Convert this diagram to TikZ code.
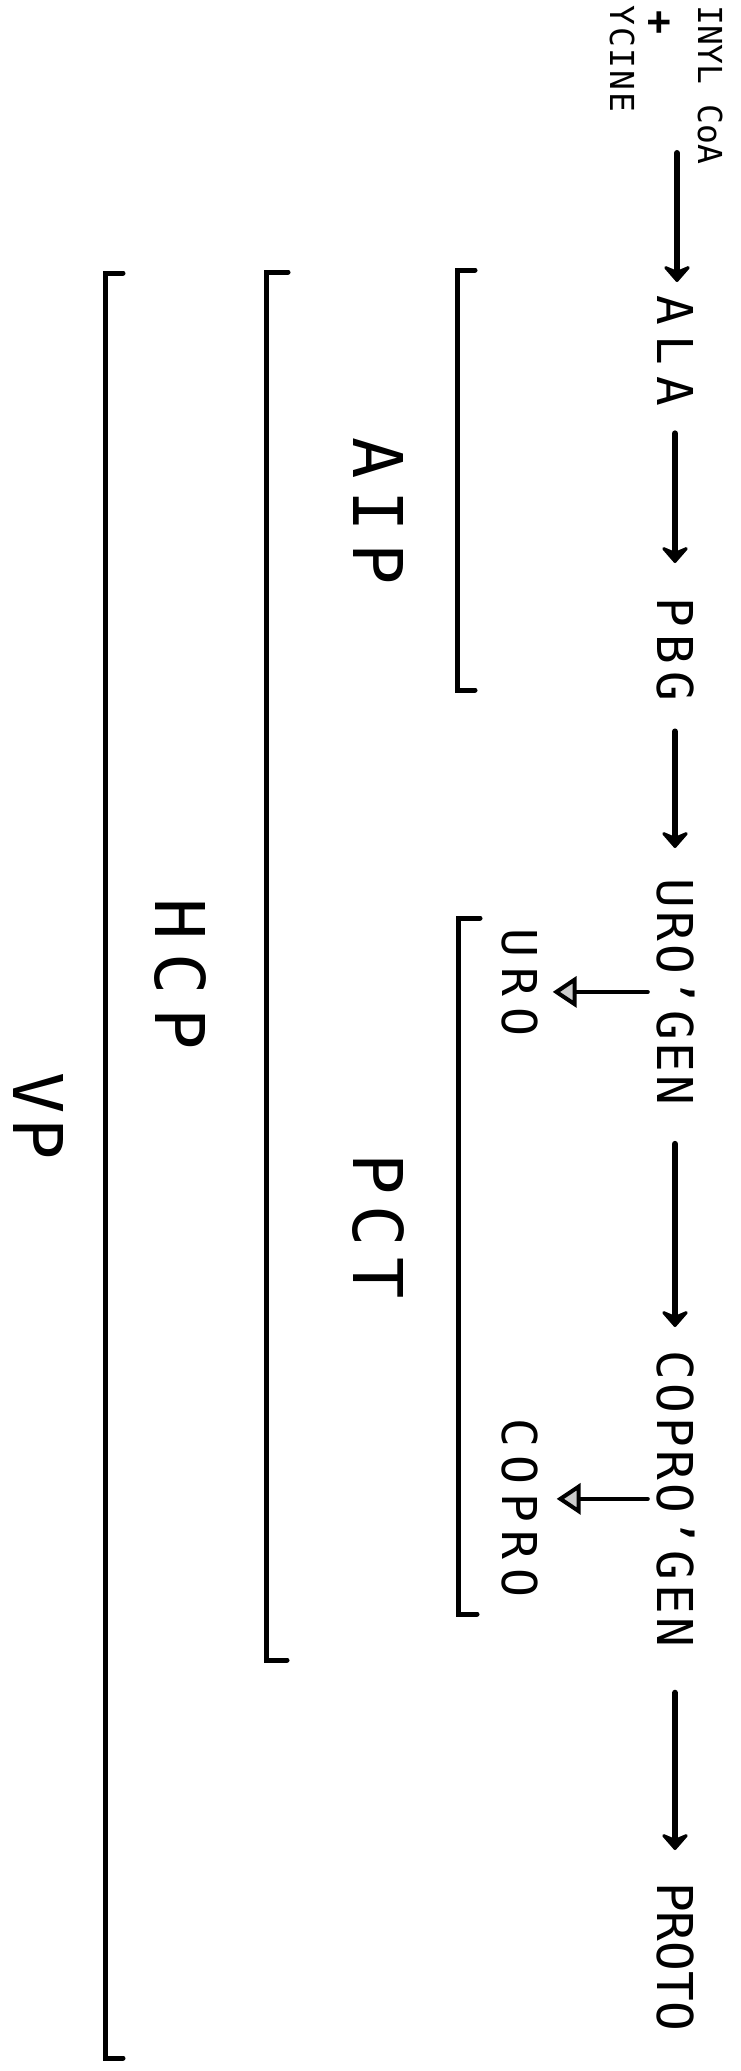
\documentclass[tikz,border=0pt]{standalone}
\usepackage{fontspec}
\setmainfont{DejaVu Sans Mono}
\usetikzlibrary{arrows.meta}
\newcommand\mainsz{\fontsize{49.4}{50}\selectfont}
\newcommand\bigsz{\fontsize{68.6}{70}\selectfont}
\newcommand\subsz{\fontsize{48}{50}\selectfont}
\newcommand\smallsz{\fontsize{33}{35}\selectfont}
\newcommand\ls[1]{\addfontfeature{LetterSpace=#1}}
\tikzset{
  lbl/.style={inner sep=0pt, text depth=0pt, rotate=-90, anchor=west},
  mainlbl/.style={lbl, font=\mainsz, text height=36pt},
  biglbl/.style={lbl, font=\bigsz, text height=50pt},
  sublbl/.style={lbl, font=\subsz, text height=35pt},
  smalllbl/.style={lbl, font=\smallsz, text height=24pt},
  mainarr/.style={line width=6pt, line cap=round, -{Stealth[length=19pt, width=33pt, inset=7pt, round]}},
  sidearr/.style={line width=4pt, line cap=round, -{Triangle[length=24pt, width=31pt, fill=gray!40]}},
  bracket/.style={line width=5pt, line cap=round, line join=miter}
}
\begin{document}
\begin{tikzpicture}[x=1pt, y=-1pt]
\fill[white] (0,0) rectangle (741,2071);
\useasboundingbox (0,0) rectangle (741,2071);
% top substrates (cut off in the reference)
\node[smalllbl] (succ) at (710,5) {INYL CoA};
\node[font=\fontsize{40}{40}\selectfont\bfseries, inner sep=0pt, rotate=-90] (plus) at (658,23) {+};
\node[smalllbl] (gly) at (622,5) {\ls{6}YCINE};
% main pathway
\node[mainlbl] (ala) at (675,295) {\ls{22}ALA};
\node[mainlbl] (pbg) at (675,597) {\ls{15}PBG};
\node[mainlbl] (urogen) at (675,878) {\ls{6.5}URO’GEN};
\node[mainlbl] (coprogen) at (675,1350) {\ls{7.5}COPRO’GEN};
\node[mainlbl] (proto) at (675,1882) {PROTO};
% side products
\node[sublbl] (uro) at (520,928) {\ls{22}URO};
\node[sublbl] (copro) at (520,1418) {\ls{18}COPRO};
% porphyria labels
\node[biglbl] (aip) at (378,437) {\ls{17}AIP};
\node[biglbl] (pct) at (378,1153) {\ls{16}PCT};
\node[biglbl] (hcp) at (180,898) {\ls{20}HCP};
\node[biglbl] (vp) at (38,1072) {\ls{7}VP};
% connectors
\coordinate (start) at (677,153);
\draw[mainarr, shorten >=13pt] (start) -- (start |- ala.west);
\draw[mainarr, shorten <=27pt, shorten >=34pt] (ala.east) -- (pbg.west);
\draw[mainarr, shorten <=30pt, shorten >=30pt] (pbg.east) -- (urogen.west);
\draw[mainarr, shorten <=38pt, shorten >=23pt] (urogen.east) -- (coprogen.west);
\draw[mainarr, shorten <=45pt, shorten >=32pt] (coprogen.east) -- (proto.west);
\draw[sidearr, shorten <=9pt, shorten >=15pt] (urogen.south) -- (urogen.south -| uro.north);
\draw[sidearr, shorten <=9pt, shorten >=19pt] (coprogen.south) -- (coprogen.south -| copro.north);
% brackets
\draw[bracket] (475,270) -- (457,270) -- (457,690) -- (475,690);
\draw[bracket] (480,918) -- (458,918) -- (458,1614) -- (477,1614);
\draw[bracket] (288,272) -- (266,272) -- (266,1660) -- (287,1660);
\draw[bracket] (123,273) -- (105,273) -- (105,2058) -- (123,2058);
\end{tikzpicture}
\end{document}
